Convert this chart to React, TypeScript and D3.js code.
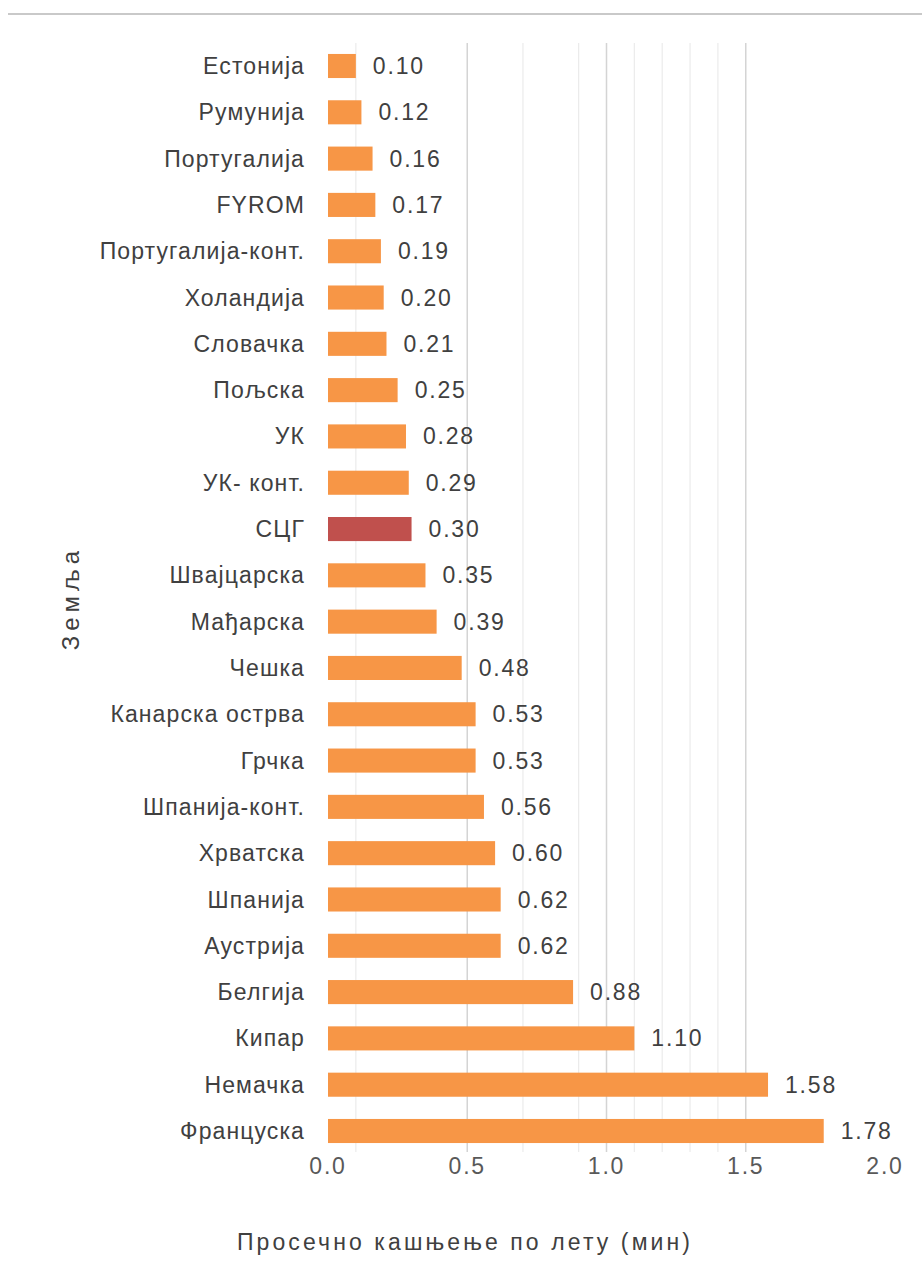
import React from "react";
import * as d3 from "d3";

const categories = [
  "Естонија", "Румунија", "Португалија", "FYROM", "Португалија-конт.", "Холандија",
  "Словачка", "Пољска", "УК", "УК- конт.", "СЦГ", "Швајцарска", "Мађарска", "Чешка",
  "Канарска острва", "Грчка", "Шпанија-конт.", "Хрватска", "Шпанија", "Аустрија",
  "Белгија", "Кипар", "Немачка", "Француска",
];
const values = [
  0.10, 0.12, 0.16, 0.17, 0.19, 0.20, 0.21, 0.25, 0.28, 0.29, 0.30, 0.35, 0.39, 0.48,
  0.53, 0.53, 0.56, 0.60, 0.62, 0.62, 0.88, 1.10, 1.58, 1.78,
];
const highlighted = ["СЦГ"];
const xTicks = [0, 0.5, 1.0, 1.5, 2.0];
const majorGrid = [0.5, 1.0, 1.5];
const minorGrid = [0.1, 0.7, 0.9, 1.1, 1.2, 1.3, 1.4];
const xTitle = "Просечно кашњење по лету (мин)";
const yTitle = "Земља";

const W = 922;
const H = 1271;
const FONT = "'Liberation Sans', Arial, sans-serif";

export default function App() {
  const x = d3.scaleLinear().domain([0, 2]).range([328, 885]);
  const y = d3
    .scaleBand<string>()
    .domain(categories)
    .range([42.85, 1154.15])
    .paddingInner(0.48)
    .paddingOuter(0.24);
  const gridTop = 43;
  const gridBottom = 1152;
  const fmt = d3.format(".2f");

  return (
    <svg
      width={W}
      height={H}
      style={{ position: "absolute", left: 0, top: 0, background: "#fff" }}
      fontFamily={FONT}
    >
      <line x1={8} x2={W} y1={14} y2={14} stroke="#c9c9c9" strokeWidth={2} />
      {minorGrid.map((v) => (
        <line key={"mi" + v} x1={x(v)} x2={x(v)} y1={gridTop} y2={gridBottom} stroke="#ebebeb" strokeWidth={1.2} />
      ))}
      {majorGrid.map((v) => (
        <line key={"ma" + v} x1={x(v)} x2={x(v)} y1={gridTop} y2={gridBottom} stroke="#d4d4d4" strokeWidth={1.5} />
      ))}
      {categories.map((c, i) => {
        const yy = y(c)!;
        const bw = y.bandwidth();
        const v = values[i];
        return (
          <g key={c}>
            <rect
              x={x(0)}
              y={yy}
              width={x(v) - x(0)}
              height={bw}
              fill={highlighted.includes(c) ? "#C0504D" : "#F79646"}
            />
            <text
              x={305}
              y={yy + bw / 2}
              dy="0.35em"
              textAnchor="end"
              fontSize={23}
              fill="#404040"
              letterSpacing={1.1}
            >
              {c}
            </text>
            <text
              x={x(v) + 17}
              y={yy + bw / 2}
              dy="0.35em"
              fontSize={23}
              fill="#404040"
              letterSpacing={1.8}
            >
              {fmt(v)}
            </text>
          </g>
        );
      })}
      {xTicks.map((t) => (
        <text
          key={"t" + t}
          x={x(t)}
          y={1166}
          dy="0.35em"
          textAnchor="middle"
          fontSize={23}
          fill="#595959"
          letterSpacing={1.8}
        >
          {t.toFixed(1)}
        </text>
      ))}
      <text x={465} y={1242} dy="0.35em" textAnchor="middle" fontSize={23} fill="#404040" letterSpacing={3.1}>
        {xTitle}
      </text>
      <text
        transform={`translate(71, 598) rotate(-90)`}
        dy="0.35em"
        textAnchor="middle"
        fontSize={24}
        fill="#404040"
        letterSpacing={5}
      >
        {yTitle}
      </text>
    </svg>
  );
}
